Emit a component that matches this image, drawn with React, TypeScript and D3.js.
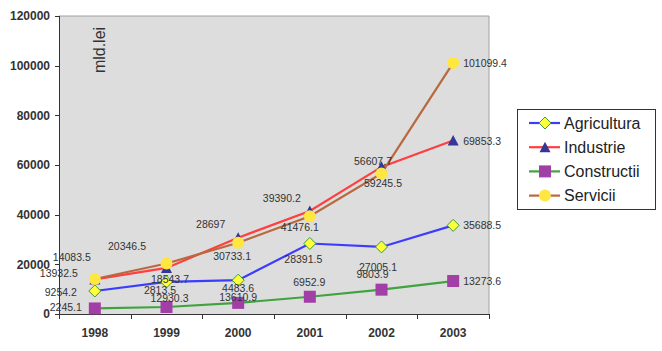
import React from 'react';
import * as d3 from 'd3';

const years = ["1998", "1999", "2000", "2001", "2002", "2003"];
const agricultura = [9254.2, 12930.3, 13610.9, 28391.5, 27005.1, 35688.5];
const industrie = [13932.5, 18543.7, 30733.1, 41476.1, 59245.5, 69853.3];
const constructii = [2245.1, 2813.5, 4483.6, 6952.9, 9803.9, 13273.6];
const servicii = [14083.5, 20346.5, 28697, 39390.2, 56607.7, 101099.4];
const yTicks = [0, 20000, 40000, 60000, 80000, 100000, 120000];

// label nudges from the point (text centre), last year sits to the right
const shiftAgr = [[-34, 1], [3, 16], [0, 17.5], [-6.5, 16], [-3.5, 20.5], [10, 0]];
const shiftInd = [[-36, -6.5], [3.5, 11.5], [-6, 19], [-10, 16.5], [1.5, 16.5], [10, 1]];
const shiftCon = [[-29, -1.5], [-6.5, -16.5], [0, -14.5], [-0.5, -14], [-9, -15.5], [10, 0]];
const shiftSer = [[-23, -21.5], [-39.5, -17.5], [-27.5, -18.5], [-28, -18], [-8.5, -12.5], [10, 0]];

const series = [
  { name: "Agricultura", values: agricultura, line: "#3c3cff", marker: "diamond", shift: shiftAgr },
  { name: "Industrie", values: industrie, line: "#ff3f3f", marker: "triangle", shift: shiftInd },
  { name: "Constructii", values: constructii, line: "#3fa33f", marker: "square", shift: shiftCon },
  { name: "Servicii", values: servicii, line: "#b8693f", marker: "circle", shift: shiftSer },
];

const Marker = ({ type, x, y }: { type: string; x: number; y: number }) => {
  if (type === "diamond")
    return <path d="M0,-6L6,0L0,6L-6,0Z" transform={`translate(${x},${y})`} fill="#ffff3a" stroke="#3a9a3a" strokeWidth={1} />;
  if (type === "triangle")
    return <path d="M0,-5.5L5.5,5L-5.5,5Z" transform={`translate(${x},${y})`} fill="#363699" />;
  if (type === "square")
    return <rect x={x - 6} y={y - 6} width={12} height={12} fill="#a23fa6" />;
  return <circle cx={x} cy={y} r={6} fill="#ffe640" />;
};

export default function App() {
  const width = 662;
  const height = 351;
  const left = 59, right = 489, top = 16, bottom = 314;

  const x = d3.scaleBand().domain(years).range([left, right]);
  const cx = (d: string) => (x(d) as number) + x.bandwidth() / 2;
  const y = d3.scaleLinear().domain([0, 120000]).range([bottom, top]);

  const line = d3.line<number>()
    .x((_, i) => cx(years[i]))
    .y(v => y(v));

  const font = "Arial, 'Liberation Sans', sans-serif";
  const bounds = years.map(d => x(d) as number).concat([right]);

  return (
    <div style={{ position: "fixed", left: 0, top: 0 }}>
      <svg width={width} height={height} style={{ display: "block", background: "#fff" }} fontFamily={font}>
        <rect x={left} y={top} width={right - left} height={bottom - top} fill="#dddddd" />
        <path d={`M${left},${top}H${right}V${bottom}`} fill="none" stroke="#a0a0a0" />

        {/* y axis */}
        <line x1={left + 0.5} x2={left + 0.5} y1={top} y2={bottom} stroke="#333" />
        {yTicks.map(t => (
          <g key={t}>
            <line x1={left - 4} x2={left} y1={Math.round(y(t)) + 0.5} y2={Math.round(y(t)) + 0.5} stroke="#333" />
            <text x={50} y={y(t)} dy="0.35em" textAnchor="end" fontSize={12} fontWeight="bold" fill="#333">{t}</text>
          </g>
        ))}

        {/* x axis */}
        <line x1={left} x2={right} y1={bottom + 0.5} y2={bottom + 0.5} stroke="#333" />
        {bounds.map((b, i) => (
          <line key={i} x1={Math.round(b) + 0.5} x2={Math.round(b) + 0.5} y1={bottom} y2={bottom + 5} stroke="#333" />
        ))}
        {years.map(d => (
          <text key={d} x={cx(d)} y={333} dy="0.35em" textAnchor="middle" fontSize={12} fontWeight="bold" fill="#333">{d}</text>
        ))}

        <text transform="translate(105,50) rotate(-90)" textAnchor="middle" fontSize={16} fill="#333">mld.lei</text>

        {series.map(s => (
          <path key={s.name} d={line(s.values) || ""} fill="none" stroke={s.line} strokeWidth={2.2} />
        ))}

        {series.map(s => (
          <g key={s.name}>
            {s.values.map((v, i) => (
              <Marker key={i} type={s.marker} x={cx(years[i])} y={y(v)} />
            ))}
          </g>
        ))}

        {series.map(s => (
          <g key={s.name} fontSize={10.5} fill="#333">
            {s.values.map((v, i) => {
              const last = i === s.values.length - 1;
              return (
                <text key={i} x={cx(years[i]) + s.shift[i][0]} y={y(v) + s.shift[i][1]} dy="0.35em"
                  textAnchor={last ? "start" : "middle"}>{String(v)}</text>
              );
            })}
          </g>
        ))}

        {/* legend */}
        <rect x={517.5} y={109.5} width={138} height={100} fill="#fff" stroke="#333" />
        {series.map((s, i) => {
          const ly = 123 + i * 24.2;
          return (
            <g key={s.name}>
              <line x1={529} x2={560} y1={ly} y2={ly} stroke={s.line} strokeWidth={2.2} />
              <Marker type={s.marker} x={545} y={ly} />
              <text x={564} y={ly} dy="0.35em" fontSize={16} fill="#222">{s.name}</text>
            </g>
          );
        })}
      </svg>
    </div>
  );
}
